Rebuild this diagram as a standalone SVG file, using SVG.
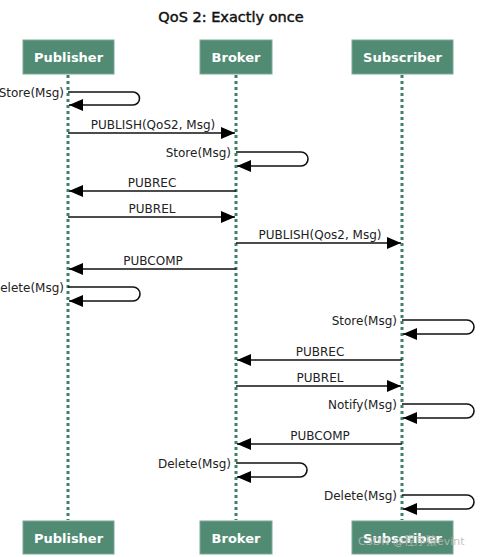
<svg xmlns="http://www.w3.org/2000/svg" width="490" height="557" viewBox="0 0 490 557">
<style>
.box{fill:#528b74;stroke:#7aa898;stroke-width:1}
.bt{font-family:"DejaVu Sans",Verdana,sans-serif;font-size:13px;font-weight:bold;fill:#fff;text-anchor:middle}
.life{stroke:#3d8265;stroke-width:3;stroke-dasharray:3 3;fill:none}
.msg{stroke:#111;stroke-width:1.6;fill:none}
.lbl{font-family:"DejaVu Sans",Verdana,sans-serif;font-size:12px;fill:#222}
.c{text-anchor:middle}
.r{text-anchor:end}
.title{font-family:"DejaVu Sans",Verdana,sans-serif;font-size:14.5px;fill:#111;stroke:#111;stroke-width:0.45;text-anchor:middle}
</style>
<defs>
<marker id="ah" markerWidth="14" markerHeight="12" refX="14" refY="6" orient="auto" markerUnits="userSpaceOnUse">
<path d="M0,0 L14,6 L0,12 Z" fill="#000"/>
</marker>
</defs>
<rect width="490" height="557" fill="#fff"/>
<text class="title" x="231" y="22">QoS 2: Exactly once</text>

<g id="lifelines">
<line class="life" x1="68" y1="75" x2="68" y2="520"/>
<line class="life" x1="236" y1="75" x2="236" y2="520"/>
<line class="life" x1="402" y1="75" x2="402" y2="520"/>
</g>

<g id="publisher-top"><rect class="box" x="23" y="40" width="91" height="34"/><text class="bt" x="68.5" y="62">Publisher</text></g>
<g id="broker-top"><rect class="box" x="200" y="40" width="72" height="34"/><text class="bt" x="236" y="62">Broker</text></g>
<g id="subscriber-top"><rect class="box" x="352" y="40" width="101" height="34"/><text class="bt" x="402.5" y="62">Subscriber</text></g>
<g id="publisher-bottom"><rect class="box" x="23" y="521" width="91" height="33"/><text class="bt" x="68.5" y="543">Publisher</text></g>
<g id="broker-bottom"><rect class="box" x="200" y="521" width="72" height="33"/><text class="bt" x="236" y="543">Broker</text></g>
<g id="subscriber-bottom"><rect class="box" x="352" y="521" width="101" height="33"/><text class="bt" x="402.5" y="543">Subscriber</text></g>

<g id="connectors">
<path class="msg" marker-end="url(#ah)" d="M68,92 H133 A6.5,6.5 0 0 1 133,105 H69"/>
<path class="msg" marker-end="url(#ah)" d="M68,133 H235"/>
<path class="msg" marker-end="url(#ah)" d="M236,152 H301 A7,7 0 0 1 301,166 H237"/>
<path class="msg" marker-end="url(#ah)" d="M236,191 H69"/>
<path class="msg" marker-end="url(#ah)" d="M68,217 H235"/>
<path class="msg" marker-end="url(#ah)" d="M236,243 H401"/>
<path class="msg" marker-end="url(#ah)" d="M236,269 H69"/>
<path class="msg" marker-end="url(#ah)" d="M68,287 H133 A7,7 0 0 1 133,301 H69"/>
<path class="msg" marker-end="url(#ah)" d="M402,320 H467 A7,7 0 0 1 467,334 H403"/>
<path class="msg" marker-end="url(#ah)" d="M402,360 H237"/>
<path class="msg" marker-end="url(#ah)" d="M236,386 H401"/>
<path class="msg" marker-end="url(#ah)" d="M402,404 H467 A7,7 0 0 1 467,418 H403"/>
<path class="msg" marker-end="url(#ah)" d="M402,444 H237"/>
<path class="msg" marker-end="url(#ah)" d="M236,463 H300 A7,7 0 0 1 300,477 H237"/>
<path class="msg" marker-end="url(#ah)" d="M402,495 H467 A7,7 0 0 1 467,509 H403"/>
</g>

<g id="labels">
<text class="lbl r" x="64" y="97">Store(Msg)</text>
<text class="lbl c" x="153" y="129">PUBLISH(QoS2, Msg)</text>
<text class="lbl r" x="231" y="157">Store(Msg)</text>
<text class="lbl c" x="152" y="187">PUBREC</text>
<text class="lbl c" x="152" y="213">PUBREL</text>
<text class="lbl c" x="320" y="239">PUBLISH(Qos2, Msg)</text>
<text class="lbl c" x="153" y="265">PUBCOMP</text>
<text class="lbl r" x="64" y="292">Delete(Msg)</text>
<text class="lbl r" x="397" y="325">Store(Msg)</text>
<text class="lbl c" x="320" y="356">PUBREC</text>
<text class="lbl c" x="320" y="382">PUBREL</text>
<text class="lbl r" x="397" y="409">Notify(Msg)</text>
<text class="lbl c" x="320" y="440">PUBCOMP</text>
<text class="lbl r" x="231" y="468">Delete(Msg)</text>
<text class="lbl r" x="397" y="500">Delete(Msg)</text>
</g>
<text x="358" y="545" font-family="'DejaVu Sans','Noto Sans CJK SC',sans-serif" font-size="11" fill="#bbbbbb" opacity="0.85">CSDN @程序猿evint</text>
</svg>
